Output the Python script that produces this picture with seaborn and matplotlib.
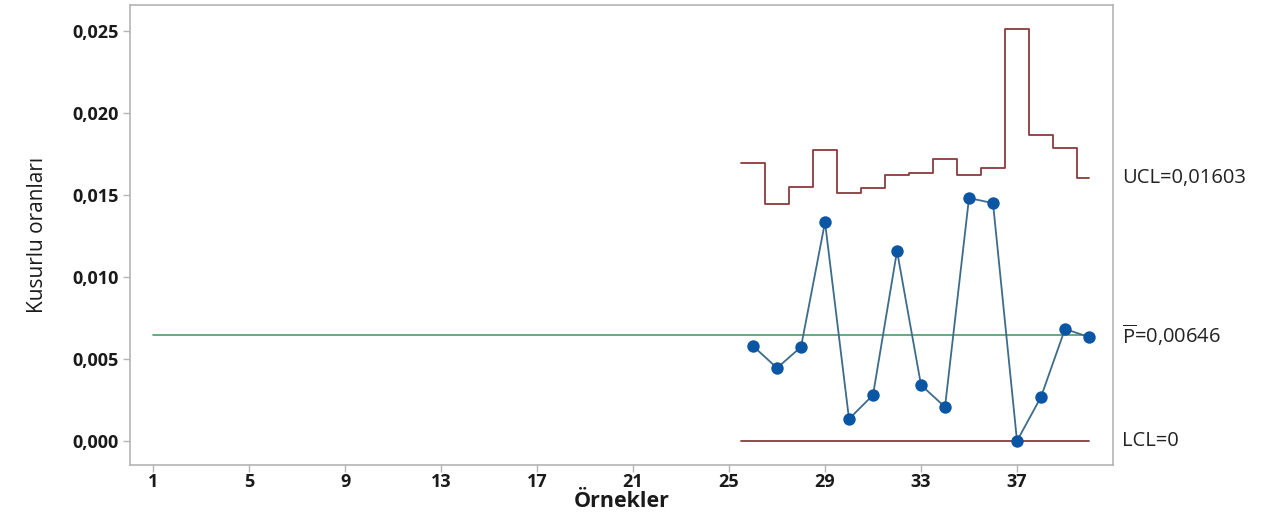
import numpy as np
import pandas as pd
import matplotlib
matplotlib.use("Agg")
import matplotlib.pyplot as plt
import seaborn as sns

# ---- data ----
samples = list(range(26, 41))
p_values = [0.00579, 0.00445, 0.00573, 0.01335, 0.00134, 0.00280, 0.01159,
            0.00341, 0.00207, 0.01482, 0.01451, 0.00000, 0.00268, 0.00683, 0.00634]
ucl_values = [0.01695, 0.01445, 0.01549, 0.01774, 0.01512, 0.01543, 0.01620,
              0.01634, 0.01720, 0.01620, 0.01665, 0.02512, 0.01866, 0.01787, 0.01603]
lcl_value = 0.0
center_value = 0.00646
center_start = 1
x_ticks = [1, 5, 9, 13, 17, 21, 25, 29, 33, 37]
y_ticks = [0.000, 0.005, 0.010, 0.015, 0.020, 0.025]
y_tick_labels = ["0,000", "0,005", "0,010", "0,015", "0,020", "0,025"]
label_ucl = "UCL=0,01603"
label_center = r"$\overline{\mathrm{P}}$=0,00646"
label_lcl = "LCL=0"
x_title = "Örnekler"
y_title = "Kusurlu oranları"

sns.set_theme(style="white")
plt.rcParams['font.family'] = ['Open Sans', 'DejaVu Sans']
plt.rcParams['mathtext.fontset'] = 'custom'
plt.rcParams['mathtext.rm'] = 'Open Sans'

fig = plt.figure(figsize=(12.77, 5.16), dpi=100)
ax = fig.add_axes([130/1277, 1-465/516, (1113-130)/1277, (465-5)/516])

# UCL step line
edges = [samples[0] - 0.5] + [s + 0.5 for s in samples[:-1]] + [samples[-1]]
ucl_ext = ucl_values + [ucl_values[-1]]
ax.plot(edges, ucl_ext, drawstyle="steps-post", color="#8a3a3c", lw=1.3, zorder=2)
# LCL
ax.plot([samples[0] - 0.5, samples[-1]], [lcl_value, lcl_value], color="#8a3a3c", lw=1.3, zorder=2)
# Center line
ax.plot([center_start, samples[-1]], [center_value, center_value], color="#4e9a6c", lw=1.2, zorder=2)

df = pd.DataFrame({"sample": samples, "p": p_values})
sns.lineplot(data=df, x="sample", y="p", ax=ax, color="#3d6b8a", lw=1.3, zorder=3)
sns.scatterplot(data=df, x="sample", y="p", ax=ax, color="#0a56a5", s=80,
                edgecolor="#0a56a5", linewidth=0, zorder=4)

ax.set_xlim(0.04, 41.0)
ax.set_ylim(-0.00147, 0.0266)
ax.set_xticks(x_ticks)
ax.set_xticklabels([str(t) for t in x_ticks])
ax.set_yticks(y_ticks)
ax.set_yticklabels(y_tick_labels)

for s in ax.spines.values():
    s.set_color("#b4b4b4")
    s.set_linewidth(1.2)
ax.tick_params(axis="both", which="both", length=5, width=1, color="#b4b4b4",
               labelsize=13, labelcolor="#1a1a1a", direction="out")
ax.tick_params(axis="x", pad=1)
ax.tick_params(axis="y", pad=3)
ax.tick_params(bottom=True, left=True)
for lab in ax.get_xticklabels() + ax.get_yticklabels():
    lab.set_fontweight("bold")

ax.set_xlabel(x_title, fontsize=15.5, fontweight="bold", color="#1a1a1a", labelpad=0)
ax.set_ylabel(y_title, fontsize=15, color="#1a1a1a", labelpad=18)

tx = 1.009
for val, txt in [(ucl_values[-1], label_ucl), (center_value, label_center), (lcl_value, label_lcl)]:
    ax.text(tx, val, txt, transform=ax.get_yaxis_transform(), ha="left", va="center",
            fontsize=14.5, color="#222222", clip_on=False)

fig.savefig("out.png", dpi=100, facecolor="white")
